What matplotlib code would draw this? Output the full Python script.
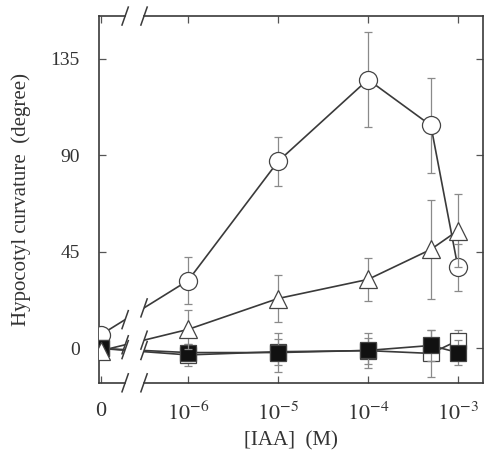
import numpy as np
import matplotlib
matplotlib.use('Agg')
import matplotlib.pyplot as plt
import matplotlib.transforms as mtransforms

plt.rcParams['font.family'] = ['Liberation Serif', 'DejaVu Serif']
plt.rcParams['mathtext.fontset'] = 'stix'

# IAA concentration (M)
conc = [0, 1e-6, 1e-5, 1e-4, 5e-4, 1e-3]
circle = [6.5, 31.7, 87.2, 125.4, 104.0, 37.8]
circle_err = [0, 11, 11.5, 22, 22, 11]
triangle = [-1.0, 8.9, 23.3, 32.2, 46.2, 55.0]
triangle_err = [0, 9, 11, 10, 23, 17]
open_sq = [0, -3.0, -1.5, -1.0, -2.3, 3.7]
open_sq_err = [0, 5, 6, 6, 11, 5]
filled_sq = [0, -1.9, -1.9, -0.9, 1.4, -1.9]
filled_sq_err = [0, 4, 9, 8, 7, 6]

xtick_labels = ['0', '$10^{-6}$', '$10^{-5}$', '$10^{-4}$', '$10^{-3}$']
ytick_vals = [0, 45, 90, 135]

zero_pos = -6.967
xpos = np.array([zero_pos if c == 0 else np.log10(c) for c in conc])
gap_l, gap_r = -6.70, -6.49

lc = '#3a3a3a'
ec = '#8a8a8a'

fig = plt.figure(figsize=(4.88, 4.59), dpi=100)
ax = fig.add_axes([0.203, 0.166, 0.787, 0.799])
ax.set_xlim(-6.99, -2.72)
ax.set_ylim(-16, 155)

series = [
    (circle, circle_err, 'o', 'white', 13, 3),
    (open_sq, open_sq_err, 's', 'white', 11, 4),
    (filled_sq, filled_sq_err, 's', '#111111', 11, 5),
    (triangle, triangle_err, '^', 'white', 13, 6),
]
for y, e, m, fc, ms, z in series:
    ax.errorbar(xpos, y, yerr=e, fmt='none', ecolor=ec, elinewidth=0.9,
                capsize=3, capthick=0.9, zorder=z - 0.5)
    ax.plot(xpos, y, '-', color=lc, lw=1.2, zorder=1)
    ax.plot(xpos, y, m, ms=ms, mfc=fc, mec='#444444', mew=0.9, zorder=z)

# axis break: mask the gap and draw slashes
trans = mtransforms.blended_transform_factory(ax.transData, ax.transAxes)
ax.add_patch(plt.Rectangle((gap_l, -0.02), gap_r - gap_l, 1.04, transform=trans,
                           facecolor='white', edgecolor='none', zorder=2,
                           clip_on=False))
dx = 0.035
dy_ax = 9 / 367
def slash(x, yax):
    ax.plot([x - dx, x + dx], [yax - dy_ax, yax + dy_ax], color=lc, lw=1.1,
            transform=trans, clip_on=False, zorder=7)

for yax in (0, 1):
    slash(gap_l, yax)
    slash(gap_r, yax)
    ax.plot([-6.99, gap_l], [yax, yax], color=lc, lw=1.2, transform=trans,
            clip_on=False, zorder=7)
    ax.plot([gap_r, -2.72], [yax, yax], color=lc, lw=1.2, transform=trans,
            clip_on=False, zorder=7)

y0, y1 = ax.get_ylim()
for y in (circle, triangle, filled_sq):
    for gx in (gap_l, gap_r):
        yv = np.interp(gx, xpos[:2], y[:2])
        slash(gx, (yv - y0) / (y1 - y0))

ax.spines['top'].set_visible(False)
ax.spines['bottom'].set_visible(False)
for s in ('left', 'right'):
    ax.spines[s].set_color(lc)
    ax.spines[s].set_linewidth(1.2)

ax.set_xticks([zero_pos, -6, -5, -4, -3])
ax.set_xticklabels(xtick_labels)
ax.set_yticks(ytick_vals)
ax.tick_params(direction='in', top=True, right=True, length=5, width=0.9,
               color='#555555', labelsize=14, labelcolor='#333333')
ax.tick_params(axis='y', pad=14)
ax.tick_params(axis='x', pad=14, labelsize=16)

ax.set_xlabel('[IAA]  (M)', fontsize=15, color='#333333', labelpad=4)
ax.set_ylabel('Hypocotyl curvature  (degree)', fontsize=15, color='#333333',
              labelpad=14)

fig.savefig('out.png', dpi=100)
